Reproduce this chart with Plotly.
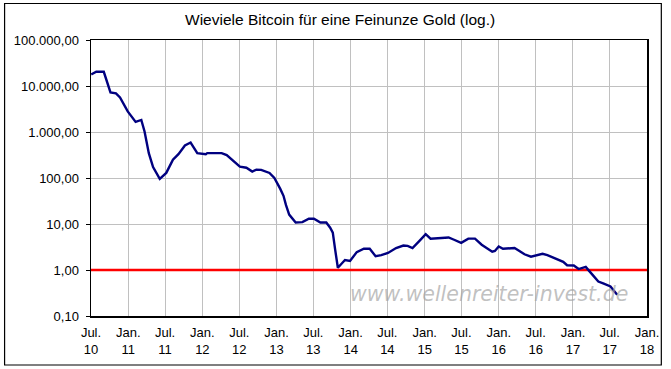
import plotly.graph_objects as go

dates = [
    "2010-07-02", "2010-07-27", "2010-09-02", "2010-10-05", "2010-11-01", "2010-11-21",
    "2010-12-29", "2011-02-06", "2011-03-06", "2011-03-22", "2011-04-12", "2011-05-03",
    "2011-06-05", "2011-07-07", "2011-08-09", "2011-09-05", "2011-10-07", "2011-11-04",
    "2011-12-07", "2012-01-18", "2012-01-25", "2012-04-05", "2012-04-30", "2012-06-01",
    "2012-07-04", "2012-08-05", "2012-09-03", "2012-09-23", "2012-10-17", "2012-11-27",
    "2012-12-21", "2013-01-19", "2013-02-04", "2013-02-16", "2013-03-04", "2013-04-05",
    "2013-05-08", "2013-06-09", "2013-07-04", "2013-08-05", "2013-09-03", "2013-09-22",
    "2013-10-05", "2013-10-17", "2013-10-30", "2013-12-04", "2013-12-29", "2014-01-31",
    "2014-03-07", "2014-04-05", "2014-05-04", "2014-06-01", "2014-07-04", "2014-08-13",
    "2014-09-18", "2014-10-09", "2014-11-02", "2014-12-04", "2015-01-06", "2015-01-30",
    "2015-04-09", "2015-04-29", "2015-05-23", "2015-06-30", "2015-08-04", "2015-09-06",
    "2015-10-09", "2015-11-02", "2015-11-30", "2015-12-13", "2016-01-01", "2016-01-22",
    "2016-03-03", "2016-03-19", "2016-04-12", "2016-05-07", "2016-06-08", "2016-07-03",
    "2016-08-04", "2016-08-28", "2016-09-30", "2016-10-24", "2016-11-14", "2016-12-03",
    "2017-01-05", "2017-01-29", "2017-02-14", "2017-03-05", "2017-03-26", "2017-05-06",
    "2017-05-30", "2017-07-05", "2017-08-07",
]
btc_per_oz = [
    17800, 20400, 20400, 7240, 6900, 5650,
    2800, 1660, 1830, 1030, 347, 173,
    96, 129, 250, 330, 510, 590,
    347, 330, 347, 347, 315, 235,
    177, 167, 138, 152, 150, 129,
    100, 58, 41, 26, 16, 10.8,
    11, 13, 13, 10.8, 10.8, 8.3,
    6.5, 2.7, 1.12, 1.65, 1.57, 2.45,
    2.9, 2.9, 2.0, 2.1, 2.35, 3.0,
    3.4, 3.35, 3.0, 4.2, 6.0, 4.8,
    4.9, 5.1, 4.6, 3.9, 4.8, 4.8,
    3.55, 3.0, 2.5, 2.6, 3.25, 2.9,
    2.9, 3.0, 2.6, 2.2, 1.95, 2.1,
    2.25, 2.1, 1.8, 1.6, 1.5, 1.27,
    1.25, 1.05, 1.1, 1.17, 0.91, 0.56,
    0.51, 0.44, 0.29,
]

parity_dates = ["2010-07-01", "2018-01-01"]
parity_values = [1, 1]

x_tick_dates = [
    "2010-07-01", "2011-01-01", "2011-07-01", "2012-01-01", "2012-07-01", "2013-01-01",
    "2013-07-01", "2014-01-01", "2014-07-01", "2015-01-01", "2015-07-01", "2016-01-01",
    "2016-07-01", "2017-01-01", "2017-07-01", "2018-01-01",
]
x_tick_labels = [
    "Jul.<br>10", "Jan.<br>11", "Jul.<br>11", "Jan.<br>12", "Jul.<br>12", "Jan.<br>13",
    "Jul.<br>13", "Jan.<br>14", "Jul.<br>14", "Jan.<br>15", "Jul.<br>15", "Jan.<br>16",
    "Jul.<br>16", "Jan.<br>17", "Jul.<br>17", "Jan.<br>18",
]
y_tick_values = [0.1, 1, 10, 100, 1000, 10000, 100000]
y_tick_labels = ["0,10", "1,00", "10,00", "100,00", "1.000,00", "10.000,00", "100.000,00"]

FONT = "Liberation Sans, Arial, sans-serif"

fig = go.Figure()
fig.add_trace(go.Scatter(
    x=parity_dates, y=parity_values, mode="lines",
    line=dict(color="#ff0000", width=2.5), hoverinfo="skip", showlegend=False,
))
fig.add_trace(go.Scatter(
    x=dates, y=btc_per_oz, mode="lines",
    line=dict(color="#000080", width=2.4), showlegend=False,
))

fig.add_annotation(
    text="www.wellenreiter-invest.de", xref="paper", yref="paper",
    x=(494.5 - 91) / 563, y=(316 - 294) / 276, xanchor="center", yanchor="middle", showarrow=False,
    font=dict(family="DejaVu Sans, Verdana, sans-serif", size=20.5,
              color="rgba(165,165,165,0.7)", style="italic"),
)
fig.add_annotation(
    text="Wieviele Bitcoin für eine Feinunze Gold (log.)", xref="paper", yref="paper",
    x=(343 - 91) / 563, y=(316 - 20) / 276, xanchor="center", yanchor="middle",
    showarrow=False, font=dict(family=FONT, size=15.5, color="#000000"),
)
# outer chart frame
fig.add_shape(
    type="rect", xref="paper", yref="paper",
    x0=(3.5 - 91) / 563, x1=(668.5 - 91) / 563,
    y0=(316 - 365) / 276, y1=(316 - 3.5) / 276,
    line=dict(color="#000000", width=1.2), fillcolor="rgba(0,0,0,0)", layer="below",
)

fig.update_layout(
    width=671, height=369,
    margin=dict(l=91, r=17, t=40, b=53),
    paper_bgcolor="#ffffff", plot_bgcolor="#ffffff",
    font=dict(family=FONT, size=13, color="#000000"),
    hovermode=False,
)
fig.update_xaxes(
    type="date", range=["2010-07-01", "2018-01-01"],
    tickmode="array", tickvals=x_tick_dates, ticktext=x_tick_labels,
    showgrid=True, gridcolor="#c0c0c0", gridwidth=1,
    showline=True, linecolor="#000000", linewidth=1.5, mirror=True,
    ticks="", ticklabelstandoff=4, zeroline=False,
    tickfont=dict(family=FONT, size=13, color="#000000"),
)
fig.update_yaxes(
    type="log", range=[-1, 5],
    tickmode="array", tickvals=y_tick_values, ticktext=y_tick_labels,
    showgrid=True, gridcolor="#c0c0c0", gridwidth=1,
    showline=True, linecolor="#000000", linewidth=1.5, mirror=True,
    ticks="outside", ticklen=4, tickcolor="#000000", ticklabelstandoff=4,
    zeroline=False,
    tickfont=dict(family=FONT, size=13, color="#000000"),
)

fig.write_html(
    "out.html",
    config={"displayModeBar": False, "staticPlot": True},
    post_script="document.body.style.margin='0';",
)
